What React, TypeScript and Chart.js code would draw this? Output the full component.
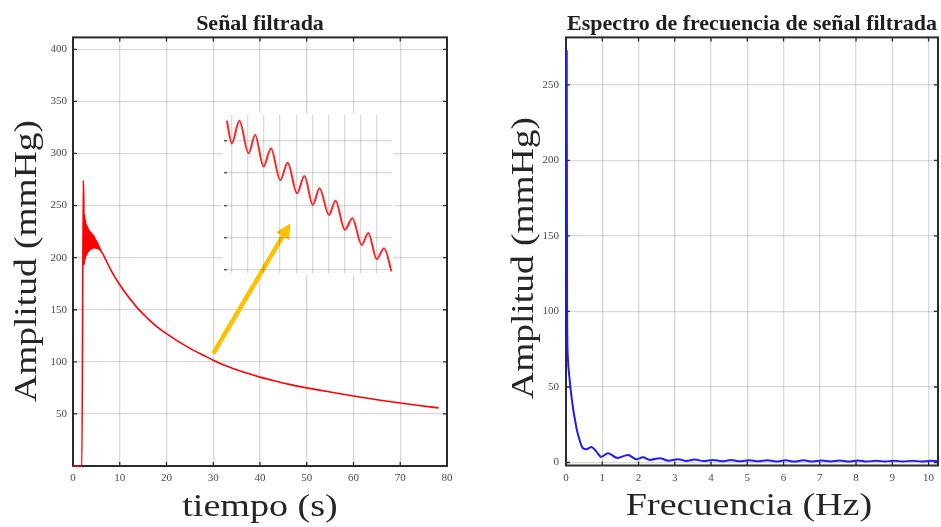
import React, { useEffect, useRef } from 'react';
import { Chart, registerables } from 'chart.js';

Chart.register(...registerables);

// ---- Filtered pressure signal (time in s, amplitude in mmHg) ----
const timeSec = [
  0, 1.9, 2.2,
  2.3, 2.4, 2.5, 2.6, 2.7, 2.8, 2.9, 3.0, 3.1, 3.2, 3.3, 3.4, 3.5, 3.6, 3.7, 3.8, 3.9, 4.0,
  4.1, 4.2, 4.3, 4.4, 4.5, 4.6, 4.7, 4.8, 4.9, 5.0, 5.1, 5.2, 5.3, 5.4, 5.5, 5.6, 5.7, 5.8, 5.9, 6.0,
  6.2, 7, 8, 9, 10, 11, 12, 13, 14, 15, 16,
  18, 20, 22, 24, 26, 28, 30, 32,
  35, 38, 40, 43, 46, 50,
  55, 60, 65, 70, 74, 78.2,
];
const pressureMmHg = [
  0, 0, 274,
  256, 193, 241, 198, 236, 201, 232, 203, 230, 205, 228, 206, 226, 207, 225, 208, 224, 208,
  223, 209, 222, 209, 221, 209, 219, 209, 217, 209, 216, 209, 214, 208, 212, 208, 210, 207, 208, 206,
  205, 198, 189, 181, 174, 167.5, 161.5, 156, 150.5, 146, 141.5,
  133.5, 127, 121, 115.5, 110.5, 106, 101.5, 97.5,
  92.5, 88, 85.3, 81.8, 78.6, 75,
  71, 67.2, 63.6, 60.4, 58, 55.8,
];

// ---- Close-up of the oscillations (arbitrary units) ----
const zoomX = [-0.31, 0, 0.47, 1.04, 1.45, 1.97, 2.43, 3.01, 3.47, 4.05, 4.51, 5.03, 5.45, 6.03, 6.44, 7.02, 7.49, 8.07, 8.48, 9.0, 9.46, 9.92];
const zoomY = [4.62, 3.92, 4.62, 3.61, 4.18, 3.2, 3.76, 2.78, 3.32, 2.37, 2.91, 2.01, 2.53, 1.7, 2.14, 1.24, 1.6, 0.77, 1.14, 0.33, 0.67, -0.05];

// Arrow pointing from the curve towards the close-up (time, mmHg)
const arrowTail = [30, 108];
const arrowTip = [46.5, 233];

// ---- Frequency spectrum of the filtered signal ----
const freqHz = [
  0.02, 0.03, 0.05, 0.1, 0.15, 0.2, 0.25, 0.3, 0.35, 0.42, 0.47,
  0.56, 0.7, 0.83, 0.97, 1.16, 1.42, 1.71, 1.94, 2.12, 2.31, 2.59, 2.82, 3.09, 3.32, 3.55, 3.8,
  4.05, 4.3, 4.55, 4.8, 5.05, 5.3, 5.55, 5.8, 6.05, 6.3, 6.55, 6.8, 7.05, 7.3, 7.55, 7.8,
  8.05, 8.3, 8.55, 8.8, 9.05, 9.3, 9.55, 9.8, 10.05, 10.26,
];
const spectrumMmHg = [
  273, 105, 70, 55, 44, 35, 28, 21.5, 17, 11.5, 9.4,
  8.7, 10.3, 7.5, 3.8, 6.1, 3.0, 5.0, 2.1, 3.4, 1.7, 2.8, 1.2, 2.1, 1.0, 1.9, 0.9,
  1.7, 0.8, 1.6, 0.8, 1.5, 0.8, 1.5, 0.7, 1.4, 0.7, 1.4, 0.7, 1.3, 0.7, 1.3, 0.6,
  1.3, 0.6, 1.2, 0.6, 1.2, 0.6, 1.2, 0.6, 1.1, 0.8,
];

const SERIF = "'Liberation Serif', 'Times New Roman', serif";
const GRID = 'rgba(0,0,0,0.15)';
const FRAME = '#2b2b2b';
const TICK_FONT = { family: SERIF, size: 11 };
const TICK_COLOR = '#4a4a4a';

// Placement of the close-up panel over the left plot
const INSET = { left: 222, top: 113, width: 172, height: 162 };

function toPoints(xs: number[], ys: number[]) {
  return xs.map((x, i) => ({ x, y: ys[i] }));
}

function drawStretched(
  ctx: CanvasRenderingContext2D,
  text: string,
  x: number,
  y: number,
  angle: number,
  stretch: number,
) {
  ctx.save();
  ctx.translate(x, y);
  ctx.rotate(angle);
  ctx.scale(stretch, 1);
  ctx.font = `32px ${SERIF}`;
  ctx.fillStyle = '#262626';
  ctx.textAlign = 'center';
  ctx.textBaseline = 'alphabetic';
  ctx.fillText(text, 0, 0);
  ctx.restore();
}

// Box frame with inward tick marks on all four sides; optional white panel
const framePlugin = {
  id: 'frameBox',
  beforeDatasetsDraw(chart: any, _args: any, opts: any) {
    const { ctx, chartArea, scales } = chart;
    const { left, right, top, bottom } = chartArea;
    ctx.save();
    if (opts && opts.blank) {
      const b = opts.blank;
      ctx.fillStyle = '#ffffff';
      ctx.fillRect(b.left, b.top, b.width, b.height);
    }
    ctx.strokeStyle = FRAME;
    ctx.lineWidth = 1.3;
    ctx.beginPath();
    scales.x.ticks.forEach((t: any) => {
      const px = scales.x.getPixelForValue(t.value);
      ctx.moveTo(px, bottom);
      ctx.lineTo(px, bottom - 4);
      ctx.moveTo(px, top);
      ctx.lineTo(px, top + 4);
    });
    scales.y.ticks.forEach((t: any) => {
      const py = scales.y.getPixelForValue(t.value);
      ctx.moveTo(left, py);
      ctx.lineTo(left + 4, py);
      ctx.moveTo(right, py);
      ctx.lineTo(right - 4, py);
    });
    ctx.stroke();
    ctx.lineWidth = 2;
    ctx.strokeRect(left, top, right - left, bottom - top);
    ctx.restore();
  },
};

// Large axis captions, drawn slightly widened along the reading direction
const axisTitlePlugin = {
  id: 'axisCaptions',
  afterDraw(chart: any, _args: any, o: any) {
    const { ctx, chartArea } = chart;
    const cx = (chartArea.left + chartArea.right) / 2 + o.xShift;
    drawStretched(ctx, o.xText, cx, o.xBaseline, 0, 1.19);
    drawStretched(ctx, o.yText, o.yBaseline, o.yCenter, -Math.PI / 2, 1.17);
  },
};

// Arrow from the decaying curve up to the close-up
const arrowPlugin = {
  id: 'zoomArrow',
  afterDatasetsDraw(chart: any) {
    const { ctx, scales } = chart;
    const x0 = scales.x.getPixelForValue(arrowTail[0]);
    const y0 = scales.y.getPixelForValue(arrowTail[1]);
    const x1 = scales.x.getPixelForValue(arrowTip[0]);
    const y1 = scales.y.getPixelForValue(arrowTip[1]);
    const ang = Math.atan2(y1 - y0, x1 - x0);
    const headLen = 15;
    const headHalf = 7.5;
    const bx = x1 - headLen * Math.cos(ang);
    const by = y1 - headLen * Math.sin(ang);
    ctx.save();
    ctx.strokeStyle = '#FFC000';
    ctx.fillStyle = '#FFC000';
    ctx.lineWidth = 4.5;
    ctx.beginPath();
    ctx.moveTo(x0, y0);
    ctx.lineTo(bx, by);
    ctx.stroke();
    ctx.beginPath();
    ctx.moveTo(x1, y1);
    ctx.lineTo(bx + headHalf * Math.sin(ang), by - headHalf * Math.cos(ang));
    ctx.lineTo(bx - headHalf * Math.sin(ang), by + headHalf * Math.cos(ang));
    ctx.closePath();
    ctx.fill();
    ctx.restore();
  },
};

function titleOptions(text: string) {
  return {
    display: true,
    text,
    fullSize: false,
    color: '#1e1e1e',
    font: { family: SERIF, size: 22, weight: 'bold' as const, lineHeight: 1.2 },
    padding: { top: 11, bottom: 0 },
  };
}

export default function App() {
  const leftRef = useRef<HTMLCanvasElement>(null);
  const insetRef = useRef<HTMLCanvasElement>(null);
  const rightRef = useRef<HTMLCanvasElement>(null);

  useEffect(() => {
    const charts: Chart[] = [];

    charts.push(
      new Chart(leftRef.current as HTMLCanvasElement, {
        type: 'line',
        data: {
          datasets: [
            {
              data: toPoints(timeSec, pressureMmHg),
              borderColor: '#ff0000',
              borderWidth: 1.6,
              pointRadius: 0,
              cubicInterpolationMode: 'monotone',
              clip: 4,
            },
          ],
        },
        options: {
          responsive: false,
          animation: false,
          events: [],
          layout: { padding: { left: 0, right: 23, top: 0, bottom: 0 } },
          plugins: {
            legend: { display: false },
            tooltip: { enabled: false },
            title: titleOptions('Señal filtrada'),
            frameBox: { blank: INSET },
            axisCaptions: {
              xText: 'tiempo (s)',
              xShift: 0,
              xBaseline: 516,
              yText: 'Amplitud (mmHg)',
              yBaseline: 36,
              yCenter: 261,
            },
          } as any,
          scales: {
            x: {
              type: 'linear',
              min: 0,
              max: 80,
              ticks: { stepSize: 10, includeBounds: false, padding: 6, font: TICK_FONT, color: TICK_COLOR, maxRotation: 0, autoSkip: false },
              grid: { color: GRID, lineWidth: 1.3, drawTicks: false },
              border: { display: false },
              afterFit: (s: any) => { s.height = 61; },
            },
            y: {
              type: 'linear',
              min: 0,
              max: 411.4,
              ticks: {
                stepSize: 50,
                includeBounds: false,
                padding: 6,
                font: TICK_FONT,
                color: TICK_COLOR,
                callback: (v: any) => (v === 0 ? '' : String(v)),
              },
              grid: { color: GRID, lineWidth: 1.3, drawTicks: false },
              border: { display: false },
              afterFit: (s: any) => { s.width = 73; },
            },
          },
        },
        plugins: [framePlugin, arrowPlugin, axisTitlePlugin],
      } as any),
    );

    charts.push(
      new Chart(insetRef.current as HTMLCanvasElement, {
        type: 'line',
        data: {
          datasets: [
            {
              data: toPoints(zoomX, zoomY),
              borderColor: '#ff2626',
              borderWidth: 2,
              pointRadius: 0,
              cubicInterpolationMode: 'monotone',
              clip: 4,
            },
          ],
        },
        options: {
          responsive: false,
          animation: false,
          events: [],
          layout: { padding: { left: 0, right: 2, top: 2, bottom: 0 } },
          plugins: { legend: { display: false }, tooltip: { enabled: false }, title: { display: false } },
          scales: {
            x: {
              type: 'linear',
              min: -0.3,
              max: 9.95,
              ticks: { display: false, stepSize: 1, includeBounds: false },
              grid: { color: GRID, lineWidth: 1.3, drawTicks: false },
              border: { display: false },
              afterFit: (s: any) => { s.height = 2; },
            },
            y: {
              type: 'linear',
              min: -0.1,
              max: 4.8,
              ticks: { display: false, stepSize: 1, includeBounds: false },
              grid: { color: GRID, lineWidth: 1.3, drawTicks: true, tickLength: 3, tickColor: '#555', tickWidth: 1.5 },
              border: { display: false },
              afterFit: (s: any) => { s.width = 5; },
            },
          },
        },
      } as any),
    );

    charts.push(
      new Chart(rightRef.current as HTMLCanvasElement, {
        type: 'line',
        data: {
          datasets: [
            {
              data: toPoints(freqHz, spectrumMmHg),
              borderColor: '#1c1cff',
              borderWidth: 2,
              pointRadius: 0,
              cubicInterpolationMode: 'monotone',
              clip: 4,
            },
          ],
        },
        options: {
          responsive: false,
          animation: false,
          events: [],
          layout: { padding: { left: 0, right: 3, top: 0, bottom: 0 } },
          plugins: {
            legend: { display: false },
            tooltip: { enabled: false },
            title: titleOptions('Espectro de frecuencia de señal filtrada'),
            axisCaptions: {
              xText: 'Frecuencia (Hz)',
              xShift: -3,
              xBaseline: 515,
              yText: 'Amplitud (mmHg)',
              yBaseline: 63,
              yCenter: 258,
            },
          } as any,
          scales: {
            x: {
              type: 'linear',
              min: 0,
              max: 10.26,
              ticks: { stepSize: 1, includeBounds: false, padding: 6, font: TICK_FONT, color: TICK_COLOR, maxRotation: 0, autoSkip: false },
              grid: { color: GRID, lineWidth: 1.3, drawTicks: false },
              border: { display: false },
              afterFit: (s: any) => { s.height = 61.5; },
            },
            y: {
              type: 'linear',
              min: -2,
              max: 281.5,
              ticks: { stepSize: 50, includeBounds: false, padding: 7, font: TICK_FONT, color: TICK_COLOR },
              grid: { color: GRID, lineWidth: 1.3, drawTicks: false },
              border: { display: false },
              afterFit: (s: any) => { s.width = 96; },
            },
          },
        },
        plugins: [framePlugin, axisTitlePlugin],
      } as any),
    );

    return () => charts.forEach((c) => c.destroy());
  }, []);

  return (
    <div style={{ position: 'fixed', left: 0, top: 0, width: 941, height: 527, background: '#ffffff', overflow: 'hidden' }}>
      <div style={{ position: 'absolute', left: 0, top: 0, width: 470, height: 527 }}>
        <canvas ref={leftRef} width={470} height={527} style={{ position: 'absolute', left: 0, top: 0 }} />
        <canvas
          ref={insetRef}
          width={INSET.width}
          height={INSET.height}
          style={{ position: 'absolute', left: INSET.left, top: INSET.top }}
        />
      </div>
      <div style={{ position: 'absolute', left: 470, top: 0, width: 471, height: 527 }}>
        <canvas ref={rightRef} width={471} height={527} style={{ position: 'absolute', left: 0, top: 0 }} />
      </div>
    </div>
  );
}
